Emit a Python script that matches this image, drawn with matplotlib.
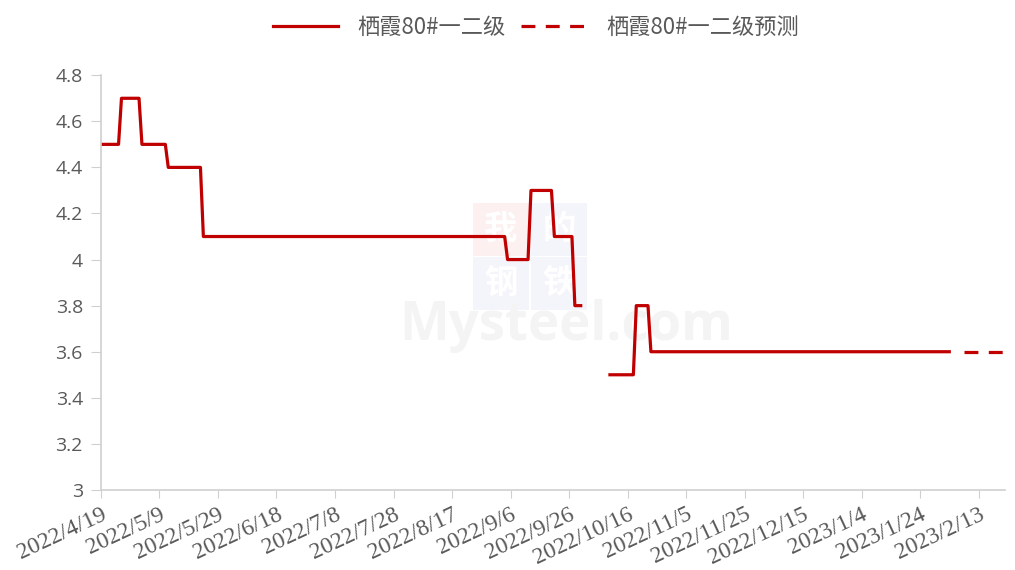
"""
栖霞80#一二级 价格走势 (step line + forecast)
"""

import matplotlib
matplotlib.use('Agg')
import matplotlib.pyplot as plt
import matplotlib.patches as mpatches
import numpy as np
import pandas as pd

plt.rcParams['font.family'] = ['Noto Sans CJK SC', 'DejaVu Sans']
plt.rcParams['lines.scale_dashes'] = False

# actual price series (change points); None = no quote (holiday gap)
actual_dates = ['2022-04-19', '2022-04-25', '2022-04-26', '2022-05-02', '2022-05-03',
                '2022-05-11', '2022-05-12', '2022-05-23', '2022-05-24', '2022-09-04',
                '2022-09-05', '2022-09-12', '2022-09-13', '2022-09-20', '2022-09-21',
                '2022-09-27', '2022-09-28', '2022-09-30', '2022-10-05', '2022-10-10',
                '2022-10-18', '2022-10-19', '2022-10-23', '2022-10-24', '2023-02-03']
actual_values = [4.5, 4.5, 4.7, 4.7, 4.5,
                 4.5, 4.4, 4.4, 4.1, 4.1,
                 4.0, 4.0, 4.3, 4.3, 4.1,
                 4.1, 3.8, 3.8, None, 3.5,
                 3.5, 3.8, 3.8, 3.6, 3.6]

forecast_dates = ['2023-02-08', '2023-02-22']
forecast_values = [3.6, 3.6]

tick_dates = ['2022-04-19', '2022-05-09', '2022-05-29', '2022-06-18', '2022-07-08',
              '2022-07-28', '2022-08-17', '2022-09-06', '2022-09-26', '2022-10-16',
              '2022-11-05', '2022-11-25', '2022-12-15', '2023-01-04', '2023-01-24',
              '2023-02-13']
tick_labels = ['2022/4/19', '2022/5/9', '2022/5/29', '2022/6/18', '2022/7/8',
               '2022/7/28', '2022/8/17', '2022/9/6', '2022/9/26', '2022/10/16',
               '2022/11/5', '2022/11/25', '2022/12/15', '2023/1/4', '2023/1/24',
               '2023/2/13']

y_ticks = [3, 3.2, 3.4, 3.6, 3.8, 4, 4.2, 4.4, 4.6, 4.8]
y_labels = ['3', '3.2', '3.4', '3.6', '3.8', '4', '4.2', '4.4', '4.6', '4.8']

RED = '#C00000'
AXIS_GRAY = '#D0D0D0'
TEXT_GRAY = '#595959'

W, H = 1015, 570
fig = plt.figure(figsize=(W / 100, H / 100), dpi=100)
ax = fig.add_axes([0.0995, 0.1404, 0.8905, 0.7276])
ax.patch.set_alpha(0)

# faint watermark: four tiles + site name
tiles = [('我', 473, 203, '#FCF0F0'), ('的', 531, 203, '#F4F5FA'),
         ('钢', 473, 257, '#F4F5FA'), ('铁', 531, 257, '#F4F5FA')]
for ch, px, py, col in tiles:
    fig.add_artist(mpatches.Rectangle((px / W, 1 - (py + 53) / H), 56 / W, 53 / H,
                                      transform=fig.transFigure, color=col,
                                      zorder=-2, lw=0))
    fig.text((px + 28) / W, 1 - (py + 26) / H, ch, fontsize=24, color='white',
             ha='center', va='center', zorder=-1, fontweight='bold')
fig.text(566 / W, 1 - 326 / H, 'Mysteel.com', fontsize=38, color='#F4F4F4',
         ha='center', va='center', zorder=-1, family=['Open Sans'], fontweight='bold')

x_act = pd.to_datetime(actual_dates)
y_act = np.array([np.nan if v is None else v for v in actual_values], dtype=float)
ax.plot(x_act, y_act, color=RED, linewidth=2.3, label='栖霞80#一二级')

x_fc = pd.to_datetime(forecast_dates)
ax.plot(x_fc, forecast_values, color=RED, linewidth=2.3, dashes=(10, 7.5),
        label='栖霞80#一二级预测')

ax.set_xlim(pd.Timestamp('2022-04-19'), pd.Timestamp('2023-02-22'))
ax.set_ylim(3, 4.8)

for side in ['top', 'right']:
    ax.spines[side].set_visible(False)
for side in ['left', 'bottom']:
    ax.spines[side].set_color(AXIS_GRAY)
    ax.spines[side].set_linewidth(1.2)
ax.tick_params(axis='x', length=6, color=AXIS_GRAY, pad=4)
ax.tick_params(axis='y', length=7, color=AXIS_GRAY, pad=6)

ax.set_xticks(pd.to_datetime(tick_dates))
ax.set_xticklabels(tick_labels)
ax.set_yticks(y_ticks)
ax.set_yticklabels(y_labels)
for lab in ax.get_xticklabels():
    lab.set_fontfamily(['Liberation Serif', 'DejaVu Serif'])
    lab.set_fontsize(17)
    lab.set_color(TEXT_GRAY)
    lab.set_rotation(25)
    lab.set_ha('right')
    lab.set_rotation_mode('anchor')
for lab in ax.get_yticklabels():
    lab.set_fontfamily(['Open Sans'])
    lab.set_fontsize(14)
    lab.set_color(TEXT_GRAY)

leg = fig.legend(loc='center', bbox_to_anchor=(0.528, 0.952), ncol=2, frameon=False,
                 handlelength=2.9, columnspacing=0.7, handletextpad=0.9,
                 prop={'family': ['Noto Sans CJK SC'], 'size': 16})
for t in leg.get_texts():
    t.set_color(TEXT_GRAY)

fig.savefig('out.png', dpi=100)
plt.close(fig)
